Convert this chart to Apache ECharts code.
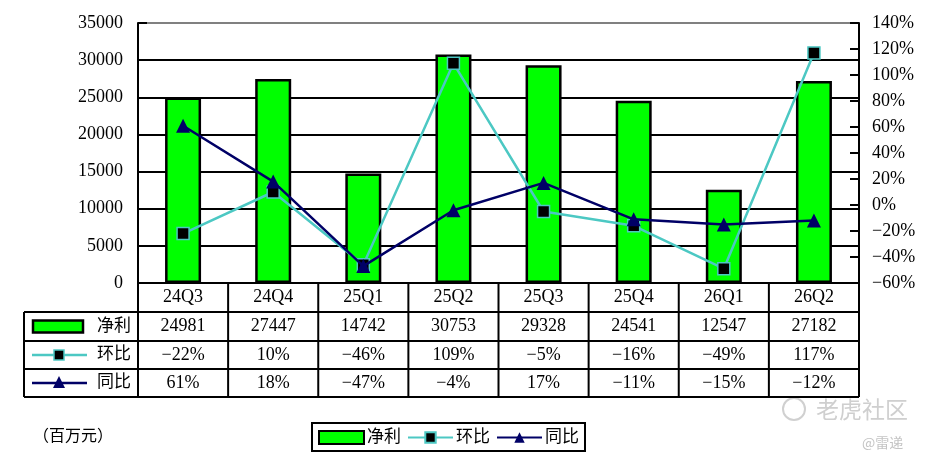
<!DOCTYPE html>
<html>
<head>
    <meta charset="UTF-8">
    <title></title>
    <style>
        html, body { margin: 0; padding: 0; background: #fff; }
        #main { width: 928px; height: 464px; }
    </style>
</head>
<body>
<div id="main"></div>
<script src="https://cdn.jsdelivr.net/npm/echarts@6.0.0/dist/echarts.min.js"></script>
<script type="text/javascript">
    // 数据
    var quarters = ['24Q3', '24Q4', '25Q1', '25Q2', '25Q3', '25Q4', '26Q1', '26Q2'];
    var netProfit = [24981, 27447, 14742, 30753, 29328, 24541, 12547, 27182];
    var qoq = [-22, 10, -46, 109, -5, -16, -49, 117];   // 环比 %
    var yoy = [61, 18, -47, -4, 17, -11, -15, -12];     // 同比 %
    var rowNames = ['净利', '环比', '同比'];

    var FONT = "'Liberation Serif', 'Noto Sans CJK SC', serif";
    var GREEN = '#00ff00';
    var TEAL = '#4cc8c3';
    var NAVY = '#000066';

    // 网格位置
    var gl = 138, gr = 69, gt = 23, gb = 181;
    var W = 928, H = 464;
    var x0 = gl, x1 = W - gr, y0 = H - gb;
    var rowH = [29, 29, 28, 28];
    var tableLeft = 24;

    function pct(v) {
        return (v < 0 ? '−' + (-v) : v) + '%';
    }

    var chart = echarts.init(document.getElementById('main'));

    // 表格线
    var graphics = [];
    var line = function (ax, ay, bx, by, color, w) {
        graphics.push({
            type: 'line',
            shape: { x1: ax, y1: ay, x2: bx, y2: by },
            style: { stroke: color || '#000', lineWidth: w || 2 },
            z: 100
        });
    };
    var rows = [y0];
    for (var r = 0; r < rowH.length; r++) rows.push(rows[r] + rowH[r]);
    var colW = (x1 - x0) / quarters.length;
    for (var i = 0; i <= quarters.length; i++) {
        line(x0 + i * colW, y0, x0 + i * colW, rows[4]);
    }
    line(tableLeft, rows[1], tableLeft, rows[4]);
    for (var j = 1; j <= 4; j++) {
        line(tableLeft, rows[j], x1, rows[j]);
    }

    // 表格左侧图例
    var cy1 = (rows[1] + rows[2]) / 2, cy2 = (rows[2] + rows[3]) / 2, cy3 = (rows[3] + rows[4]) / 2;
    graphics.push({
        type: 'rect', shape: { x: 33, y: cy1 - 6, width: 50, height: 12 },
        style: { fill: GREEN, stroke: '#000', lineWidth: 2.5 }, z: 100
    });
    line(32, cy2, 87, cy2, TEAL, 2.5);
    graphics.push({
        type: 'rect', shape: { x: 54, y: cy2 - 5, width: 10, height: 10 },
        style: { fill: '#000', stroke: TEAL, lineWidth: 1.5 }, z: 101
    });
    line(32, cy3, 87, cy3, NAVY, 2.5);
    graphics.push({
        type: 'polygon', shape: { points: [[59, cy3 - 7], [65, cy3 + 5], [53, cy3 + 5]] },
        style: { fill: NAVY }, z: 101
    });
    [cy1, cy2, cy3].forEach(function (cy, k) {
        graphics.push({
            type: 'text', x: 97, y: cy,
            style: { text: rowNames[k], font: '17px ' + FONT, fill: '#000', verticalAlign: 'middle' },
            z: 100
        });
    });

    // 单位
    graphics.push({
        type: 'text', x: 33, y: 437,
        style: { text: '（百万元）', font: '16px ' + FONT, fill: '#000', verticalAlign: 'middle' }
    });

    // 水印
    graphics.push({
        type: 'circle', shape: { cx: 794, cy: 409, r: 11 },
        style: { fill: 'none', stroke: '#d0d0d0', lineWidth: 2 }
    });
    graphics.push({
        type: 'text', x: 816, y: 409,
        style: { text: '老虎社区', font: '23px "Noto Sans CJK SC"', fill: '#cfcfcf', verticalAlign: 'middle' }
    });
    graphics.push({
        type: 'text', x: 862, y: 443,
        style: { text: '@雷递', font: '14px "Noto Sans CJK SC"', fill: '#c4c4c4', verticalAlign: 'middle' }
    });

    var labelStyle = { color: '#000', fontFamily: FONT, fontSize: 18 };

    function tableAxis(data, offset, fmt) {
        return {
            type: 'category',
            gridIndex: 0,
            position: 'bottom',
            offset: offset,
            data: data,
            axisLine: { show: false },
            axisTick: { show: false },
            splitLine: { show: false },
            axisLabel: {
                color: '#000', fontFamily: FONT, fontSize: 18,
                margin: 14, verticalAlign: 'middle', interval: 0,
                formatter: fmt
            }
        };
    }

    var option = {
        animation: false,
        backgroundColor: '#fff',
        grid: { left: gl, right: gr, top: gt, bottom: gb },
        legend: {
            left: 312, top: 423,
            itemWidth: 45, itemHeight: 13, itemGap: 6,
            borderColor: '#000', borderWidth: 2, borderRadius: 0,
            padding: [6, 6, 5, 6],
            textStyle: { color: '#000', fontFamily: FONT, fontSize: 17, padding: [0, 0, 0, -2] },
            data: [{ name: '净利', icon: 'rect' }, '环比', '同比']
        },
        xAxis: [
            {
                type: 'category',
                data: quarters,
                axisLine: { lineStyle: { color: '#000', width: 2 } },
                axisTick: { show: false },
                axisLabel: Object.assign({ margin: 14, verticalAlign: 'middle', interval: 0 }, labelStyle)
            },
            tableAxis(netProfit, 29, function (v) { return v; }),
            tableAxis(qoq, 58, function (v) { return pct(Number(v)); }),
            tableAxis(yoy, 86, function (v) { return pct(Number(v)); })
        ],
        yAxis: [
            {
                type: 'value',
                min: 0, max: 35000, interval: 5000,
                axisLine: { show: true, lineStyle: { color: '#000', width: 2 } },
                axisTick: { show: true, inside: true, length: 9, lineStyle: { color: '#000', width: 2 } },
                axisLabel: Object.assign({ margin: 15, formatter: function (v) { return String(v); } }, labelStyle),
                splitLine: {
                    lineStyle: {
                        color: ['#000', '#000', '#000', '#000', '#000', '#000', '#000', '#808080'],
                        width: 2
                    }
                }
            },
            {
                type: 'value',
                min: -60, max: 140, interval: 20,
                axisLine: { show: true, lineStyle: { color: '#000', width: 2 } },
                axisTick: { show: true, inside: true, length: 9, lineStyle: { color: '#000', width: 2 } },
                axisLabel: Object.assign({ margin: 13, formatter: function (v) { return pct(v); } }, labelStyle),
                splitLine: { show: false }
            }
        ],
        series: [
            {
                name: '净利',
                type: 'bar',
                barWidth: 36,
                data: netProfit,
                itemStyle: { color: GREEN, borderColor: '#000', borderWidth: 2.5 }
            },
            {
                name: '环比',
                type: 'line',
                yAxisIndex: 1,
                data: qoq,
                symbol: 'rect',
                symbolSize: 12,
                lineStyle: { color: TEAL, width: 2.5 },
                itemStyle: { color: '#000', borderColor: TEAL, borderWidth: 1.5 },
                z: 3
            },
            {
                name: '同比',
                type: 'line',
                yAxisIndex: 1,
                data: yoy,
                symbol: 'triangle',
                symbolSize: 14,
                lineStyle: { color: NAVY, width: 2.5 },
                itemStyle: { color: NAVY },
                z: 4
            }
        ],
        graphic: graphics
    };

    chart.setOption(option);
</script>
</body>
</html>
